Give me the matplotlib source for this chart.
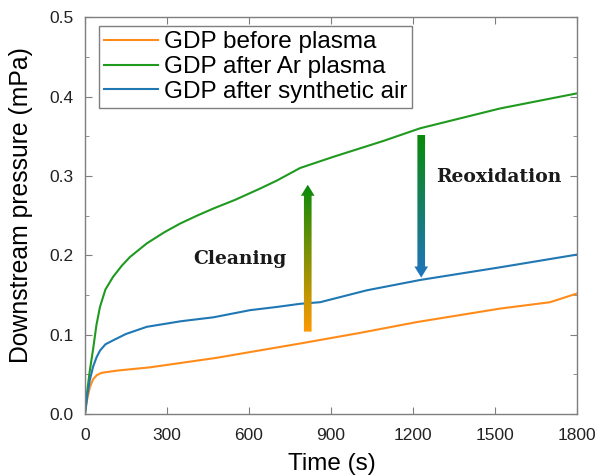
import numpy as np
import matplotlib
matplotlib.use("Agg")
import matplotlib.pyplot as plt
from matplotlib.patches import FancyArrow
from matplotlib.colors import LinearSegmentedColormap

plt.rcParams['font.family'] = ['Liberation Sans', 'DejaVu Sans']

# Data (time in s, pressure in mPa)
t_before = [0, 8, 18, 30, 43, 60, 79, 120, 238, 360, 482, 600, 787, 1000, 1214, 1519, 1701, 1800]
p_before = [0.0, 0.018, 0.034, 0.044, 0.049, 0.052, 0.053, 0.055, 0.059, 0.065, 0.071, 0.078, 0.089, 0.102, 0.116, 0.133, 0.141, 0.152]

t_ar = [0, 8, 18, 30, 42, 55, 75, 103, 135, 165, 226, 290, 348, 410, 470, 550, 640, 701, 787, 908, 1091, 1226, 1519, 1800]
p_ar = [0.0, 0.028, 0.055, 0.082, 0.112, 0.135, 0.157, 0.173, 0.187, 0.198, 0.215, 0.229, 0.240, 0.250, 0.259, 0.270, 0.284, 0.294, 0.310, 0.324, 0.344, 0.360, 0.385, 0.404]

t_air = [0, 8, 18, 30, 43, 55, 75, 103, 150, 226, 350, 470, 604, 701, 787, 860, 1031, 1226, 1519, 1800]
p_air = [0.0, 0.022, 0.043, 0.060, 0.072, 0.080, 0.088, 0.093, 0.101, 0.110, 0.117, 0.122, 0.131, 0.135, 0.139, 0.141, 0.156, 0.169, 0.185, 0.201]

labels = ["GDP before plasma", "GDP after Ar plasma", "GDP after synthetic air"]
colors = ["#ff8c1a", "#1f9a1f", "#1f77b4"]

x_ticks = [0, 300, 600, 900, 1200, 1500, 1800]
y_ticks = [0.0, 0.1, 0.2, 0.3, 0.4, 0.5]

fig = plt.figure(figsize=(5.98, 4.75), dpi=100)
ax = fig.add_axes([0.142, 0.128, 0.823, 0.836])

ax.plot(t_before, p_before, color=colors[0], lw=1.5, label=labels[0])
ax.plot(t_ar, p_ar, color=colors[1], lw=1.5, label=labels[1])
ax.plot(t_air, p_air, color=colors[2], lw=1.5, label=labels[2])

ax.set_xlim(0, 1800)
ax.set_ylim(0, 0.5)
ax.set_xticks(x_ticks)
ax.set_yticks(y_ticks)
ax.set_yticklabels([f"{v:.1f}" for v in y_ticks])
ax.set_yticks(np.arange(0.05, 0.5, 0.1), minor=True)

gray = "#7f7f7f"
for s in ax.spines.values():
    s.set_color(gray)
    s.set_linewidth(1.0)
ax.tick_params(which='both', direction='in', top=True, right=True, color=gray,
               labelsize=12.5, labelcolor='#222222')
ax.tick_params(which='major', length=5)
ax.tick_params(which='minor', length=3)
ax.tick_params(axis='x', pad=10)
ax.tick_params(axis='y', pad=8)

ax.set_xlabel("Time (s)", fontsize=17.5)
ax.set_ylabel("Downstream pressure (mPa)", fontsize=17.8)
ax.xaxis.set_label_coords(0.501, -0.098)
ax.yaxis.set_label_coords(-0.106, 0.526)

leg = ax.legend(loc='upper left', bbox_to_anchor=(0.028, 0.977), fontsize=17.5,
                fancybox=False, framealpha=1, edgecolor=gray, handlelength=2.25,
                borderpad=0.2, labelspacing=0.12, handletextpad=0.22, borderaxespad=0)
leg.get_frame().set_linewidth(1.0)

# Gradient arrows
def grad_arrow(x, y0, y1, c_start, c_end):
    dy = y1 - y0
    arr = FancyArrow(x, y0, 0, dy, width=28, head_width=50, head_length=0.014,
                     length_includes_head=True, transform=ax.transData,
                     facecolor='none', edgecolor='none')
    ax.add_patch(arr)
    cmap = LinearSegmentedColormap.from_list('g', [c_start, c_end])
    grad = np.linspace(0, 1, 256).reshape(-1, 1)
    lo, hi = min(y0, y1), max(y0, y1)
    if y1 < y0:
        grad = grad[::-1]
    im = ax.imshow(grad, cmap=cmap, aspect='auto', origin='lower',
                   extent=[x - 30, x + 30, lo, hi], zorder=3)
    im.set_clip_path(arr)

grad_arrow(815, 0.104, 0.289, "#ff9900", "#0a8a0a")
grad_arrow(1230, 0.352, 0.172, "#0a8a0a", "#1f74c0")
ax.set_xlim(0, 1800)
ax.set_ylim(0, 0.5)

ax.text(567, 0.196, "Cleaning", fontsize=13.5, fontweight='bold',
        family=['DejaVu Serif'], ha='center', va='center', color='#1a1a1a')
ax.text(1512, 0.299, "Reoxidation", fontsize=13.5, fontweight='bold',
        family=['DejaVu Serif'], ha='center', va='center', color='#1a1a1a')

fig.savefig("out.png", dpi=100)
